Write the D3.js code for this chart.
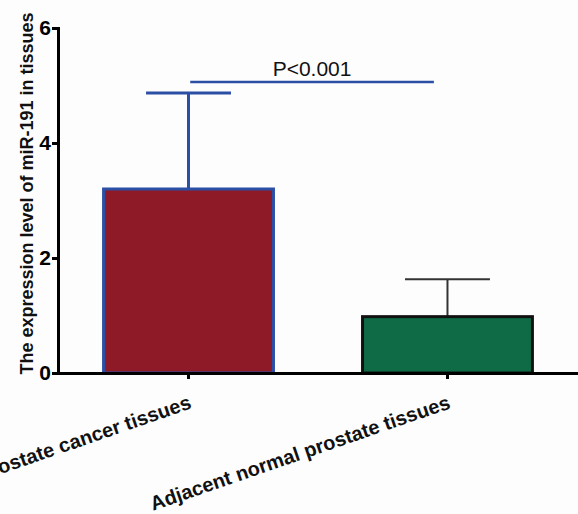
<!DOCTYPE html>
<html>
<head>
<meta charset="utf-8">
<script src="https://cdn.jsdelivr.net/npm/d3@7"></script>
<style>
  html, body { margin: 0; padding: 0; background: #fdfdfe; }
  svg { display: block; font-family: "Liberation Sans", Arial, sans-serif; }
</style>
</head>
<body>
<script>
// values
const groups = ["Prostate cancer tissues", "Adjacent normal prostate tissues"];
const means = [3.2, 0.98];
const errors = [1.67, 0.65]; // upper SD
const yTicks = [0, 2, 4, 6];
const pLabel = "P<0.001";
const pLevel = 5.06;

const fills = ["#8d1a26", "#0f6b46"];
const strokes = ["#2c4fa6", "#111111"];
const errColors = ["#2c4fa6", "#333333"];

const width = 578, height = 514;
const margin = { top: 28, right: 0, bottom: 141, left: 58 };

const svg = d3.select("body").append("svg")
  .attr("width", width)
  .attr("height", height);

const x = d3.scaleBand()
  .domain(groups)
  .range([margin.left, width - margin.right])
  .paddingInner(0.344)
  .paddingOuter(0.176);

const y = d3.scaleLinear()
  .domain([0, 6])
  .range([height - margin.bottom, margin.top]);

const rows = groups.map((g, i) => ({ g, mean: means[i], err: errors[i], i }));

// error bars (drawn first so the bar covers the stem)
const eb = svg.append("g");
eb.selectAll("line.stem")
  .data(rows)
  .join("line")
  .attr("class", "stem")
  .attr("x1", d => x(d.g) + x.bandwidth() / 2)
  .attr("x2", d => x(d.g) + x.bandwidth() / 2)
  .attr("y1", d => y(d.mean))
  .attr("y2", d => y(d.mean + d.err))
  .attr("stroke", d => errColors[d.i])
  .attr("stroke-width", d => d.i === 0 ? 3 : 2);
eb.selectAll("line.cap")
  .data(rows)
  .join("line")
  .attr("class", "cap")
  .attr("x1", d => x(d.g) + x.bandwidth() * 0.25)
  .attr("x2", d => x(d.g) + x.bandwidth() * 0.75)
  .attr("y1", d => y(d.mean + d.err))
  .attr("y2", d => y(d.mean + d.err))
  .attr("stroke", d => errColors[d.i])
  .attr("stroke-width", d => d.i === 0 ? 3 : 2);

// bars
svg.append("g")
  .selectAll("rect")
  .data(rows)
  .join("rect")
  .attr("x", d => x(d.g))
  .attr("y", d => y(d.mean))
  .attr("width", x.bandwidth())
  .attr("height", d => y(0) - y(d.mean))
  .attr("fill", d => fills[d.i])
  .attr("stroke", d => strokes[d.i])
  .attr("stroke-width", 3);

// significance line
const px1 = x(groups[0]) + x.bandwidth() * 0.51;
const px2 = x(groups[1]) + x.bandwidth() * 0.42;
svg.append("line")
  .attr("x1", px1).attr("x2", px2)
  .attr("y1", y(pLevel)).attr("y2", y(pLevel))
  .attr("stroke", "#2c4fa6")
  .attr("stroke-width", 2.5);
svg.append("text")
  .attr("x", (px1 + px2) / 2)
  .attr("y", y(pLevel) - 6)
  .attr("text-anchor", "middle")
  .attr("font-size", 21)
  .attr("fill", "#111")
  .text(pLabel);

// y axis
const yAxis = svg.append("g")
  .attr("transform", `translate(${margin.left},0)`)
  .call(d3.axisLeft(y).tickValues(yTicks).tickFormat(d3.format("d")).tickSize(6).tickPadding(1));
yAxis.select(".domain").attr("stroke", "#000").attr("stroke-width", 3);
yAxis.selectAll(".tick line").attr("stroke", "#000").attr("stroke-width", 3);
yAxis.selectAll(".tick text")
  .attr("font-size", 21)
  .attr("font-weight", "bold")
  .attr("font-family", "Liberation Sans, Arial, sans-serif")
  .attr("fill", "#000");

// x axis
const xAxis = svg.append("g")
  .attr("transform", `translate(0,${y(0)})`)
  .call(d3.axisBottom(x).tickSize(6).tickSizeOuter(0));
xAxis.select(".domain").attr("stroke", "#000").attr("stroke-width", 3);
xAxis.selectAll(".tick line").attr("stroke", "#000").attr("stroke-width", 3);
xAxis.selectAll(".tick text").remove();

svg.append("g")
  .selectAll("text")
  .data(groups)
  .join("text")
  .attr("transform", d => `translate(${x(d) + x.bandwidth() / 2 + 4},${y(0) + 35}) rotate(-19)`)
  .attr("text-anchor", "end")
  .attr("font-size", 20)
  .attr("font-weight", "bold")
  .attr("fill", "#111")
  .text(d => d);

// y label
svg.append("text")
  .attr("transform", `translate(33,${(y(0) + 10) / 2 + 2}) rotate(-90)`)
  .attr("text-anchor", "middle")
  .attr("font-size", 18)
  .attr("font-weight", "bold")
  .attr("fill", "#111")
  .text("The expression level of miR-191 in tissues");
</script>
</body>
</html>
